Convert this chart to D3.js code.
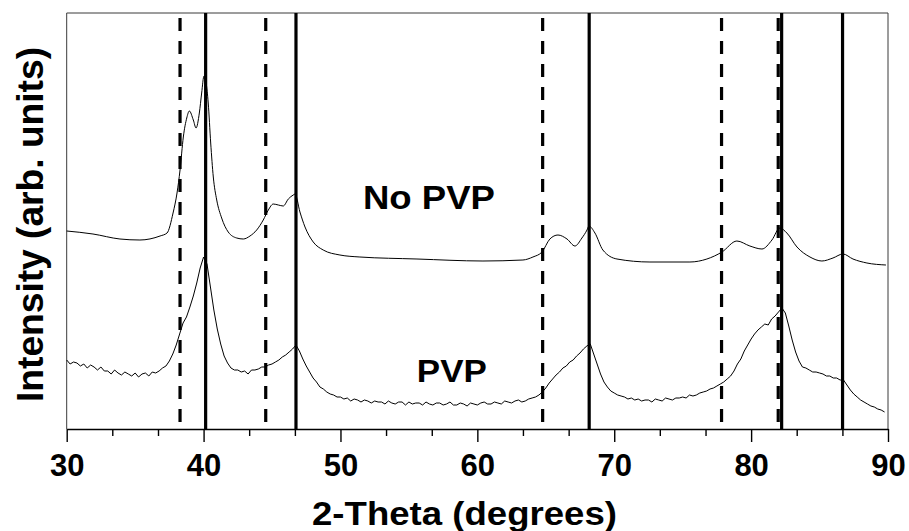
<!DOCTYPE html>
<html>
<head>
<meta charset="utf-8">
<script src="https://cdn.jsdelivr.net/npm/d3@7/dist/d3.min.js"></script>
<style>
  html, body { margin: 0; padding: 0; background: #fff; }
  svg { display: block; }
  text { font-family: "Liberation Sans", Arial, Helvetica, sans-serif; font-weight: bold; fill: #000; }
</style>
</head>
<body>
<svg id="chart" width="909" height="531"></svg>
<script>
// XRD patterns: 2-theta (degrees) vs. intensity (arb. units)

// Sample without PVP (smooth trace)
const noPvpAngle = [30.0, 31.92, 33.89, 35.35, 36.82, 37.33, 37.77, 38.06, 38.28, 38.52, 38.77, 38.96,
  39.25, 39.45, 39.69, 39.86, 40.03, 40.34, 40.52, 40.71, 40.96, 41.32, 41.80, 42.42, 42.90, 43.39,
  43.88, 44.36, 44.73, 45.09, 45.46, 45.82, 46.19, 46.55, 46.68, 47.04, 47.41, 48.01, 48.74, 49.96,
  51.42, 55.59, 60.41, 63.33, 64.06, 64.72, 65.30, 65.89, 66.55, 67.13, 67.64, 68.01, 68.15, 68.59,
  69.17, 70.20, 72.61, 75.53, 76.77, 77.87, 78.96, 79.91, 80.79, 81.52, 82.10, 82.61, 83.35, 84.30,
  85.17, 85.98, 86.71, 87.44, 88.46, 89.85];
const noPvpIntensity = [198, 195, 190, 189, 193, 196, 216, 236, 259, 292, 311, 318,
  309, 301, 316, 336, 353, 326, 286, 252, 229, 211, 197, 191, 190, 193,
  199, 209, 219, 225, 224, 223, 230, 234, 235, 217, 202, 187, 179, 174,
  172, 170, 168, 169, 172, 177, 190, 194, 190, 183, 191, 199, 203, 196,
  179, 170, 167, 167, 170, 177, 188, 183, 180, 189, 201, 196, 182, 172,
  168, 171, 175, 170, 166, 164];

// Sample with PVP (noisy trace), sampled every 0.25 degrees from 30
const pvpStart = 30;
const pvpStep = 0.25;
const pvpIntensity = [
  69, 65, 67, 66, 63, 65, 61, 64, 62, 59,
  62, 58, 58, 55, 59, 56, 54, 57, 55, 53,
  56, 52, 55, 56, 53, 57, 56, 58, 61, 63,
  68, 75, 84, 95, 106, 112, 122, 133, 146, 161,
  172, 165, 142, 119, 100, 85, 73, 66, 61, 59,
  59, 57, 58, 55, 59, 59, 60, 62, 62, 64,
  65, 67, 69, 72, 74, 77, 80, 84, 78, 70,
  63, 57, 51, 47, 42, 40, 37, 35, 34, 32,
  32, 30, 31, 28, 30, 29, 27, 29, 28, 26,
  28, 27, 27, 25, 28, 26, 25, 27, 27, 24,
  27, 25, 26, 26, 24, 27, 25, 24, 26, 26,
  24, 25, 27, 24, 24, 26, 25, 23, 26, 25,
  24, 26, 27, 25, 25, 27, 26, 25, 28, 27,
  26, 28, 29, 27, 28, 30, 31, 32, 34, 37,
  41, 46, 50, 54, 57, 61, 63, 67, 69, 73,
  76, 80, 83, 85, 75, 65, 55, 47, 42, 38,
  36, 34, 33, 32, 30, 31, 29, 30, 28, 29,
  29, 27, 30, 29, 28, 31, 30, 29, 31, 31,
  32, 31, 34, 33, 34, 36, 37, 38, 40, 41,
  43, 45, 47, 50, 53, 58, 65, 70, 78, 84,
  90, 95, 99, 102, 105, 104, 110, 113, 117, 121,
  116, 103, 89, 77, 68, 62, 61, 59, 57, 57,
  56, 55, 53, 53, 51, 51, 49, 49, 44, 39,
  35, 32, 29, 27, 25, 23, 22, 20, 19, 17];

// Reference peak positions
const dashedPeaks = [38.28, 44.54, 64.77, 77.84, 81.98];
const solidPeaks = [40.15, 46.75, 68.17, 82.23, 86.68];

// Axis ticks
const majorTicks = [30, 40, 50, 60, 70, 80, 90];
const minorTicks = [33.33, 36.67, 43.33, 46.67, 53.33, 56.67, 63.33, 66.67, 73.33, 76.67, 83.33, 86.67];

// Trace labels
const labelText = ["No PVP", "PVP"];
const labelAngle = [51.64, 55.58];
const labelIntensity = [220, 47];

const svg = d3.select("#chart");
const plotLeft = 66.7, plotRight = 888, plotTop = 13, plotBottom = 429;

const x = d3.scaleLinear().domain([30, 90]).range([plotLeft, plotRight]);
const y = d3.scaleLinear().domain([0, 416]).range([plotBottom, plotTop]);

// Frame (top, left, right)
svg.append("path")
  .attr("d", `M${plotLeft},${plotBottom}V${plotTop}H${plotRight}V${plotBottom}`)
  .attr("fill", "none")
  .attr("stroke", "#3a3a3a")
  .attr("stroke-width", 1);

// Reference lines
const refG = svg.append("g");
refG.selectAll("line.solid").data(solidPeaks).join("line")
  .attr("class", "solid")
  .attr("x1", d => x(d)).attr("x2", d => x(d))
  .attr("y1", plotTop).attr("y2", plotBottom)
  .attr("stroke", "#000").attr("stroke-width", 3.2);
refG.selectAll("line.dash").data(dashedPeaks).join("line")
  .attr("class", "dash")
  .attr("x1", d => x(d)).attr("x2", d => x(d))
  .attr("y1", plotTop).attr("y2", plotBottom)
  .attr("stroke", "#000").attr("stroke-width", 3.2)
  .attr("stroke-dasharray", "13,10")
  .attr("stroke-dashoffset", 18);

// Traces
const noPvpData = noPvpAngle.map((a, i) => [a, noPvpIntensity[i]]);
const pvpData = pvpIntensity.map((v, i) => [pvpStart + i * pvpStep, v]);

svg.append("path")
  .datum(noPvpData)
  .attr("fill", "none").attr("stroke", "#000").attr("stroke-width", 1)
  .attr("d", d3.line().x(d => x(d[0])).y(d => y(d[1])).curve(d3.curveMonotoneX));

svg.append("path")
  .datum(pvpData)
  .attr("fill", "none").attr("stroke", "#000").attr("stroke-width", 1)
  .attr("stroke-linejoin", "miter")
  .attr("d", d3.line().x(d => x(d[0])).y(d => y(d[1])));

// Bottom axis: major ticks with labels, minor ticks without
const axisG = svg.append("g").attr("transform", `translate(0,${plotBottom})`);
axisG.call(d3.axisBottom(x).tickValues(majorTicks).tickSize(13).tickSizeOuter(0).tickPadding(12).tickFormat(d3.format("d")));
axisG.select(".domain").attr("stroke", "#000").attr("stroke-width", 1.6);
axisG.selectAll(".tick line").attr("stroke", "#000").attr("stroke-width", 1.4);
axisG.selectAll(".tick text")
  .attr("font-family", "Liberation Sans, Arial, sans-serif")
  .attr("font-weight", "bold")
  .attr("font-size", 31)
  .attr("fill", "#000")
  .attr("dy", "0.71em");

const minorG = svg.append("g").attr("transform", `translate(0,${plotBottom})`);
minorG.call(d3.axisBottom(x).tickValues(minorTicks).tickSize(7).tickSizeOuter(0).tickFormat(""));
minorG.select(".domain").remove();
minorG.selectAll(".tick line").attr("stroke", "#000").attr("stroke-width", 1.4);

// Axis titles
svg.append("text")
  .attr("x", 312).attr("y", 525)
  .attr("font-size", 33)
  .attr("textLength", 305).attr("lengthAdjust", "spacingAndGlyphs")
  .text("2-Theta (degrees)");

svg.append("text")
  .attr("transform", "translate(43,402) rotate(-90)")
  .attr("font-size", 37)
  .attr("textLength", 355).attr("lengthAdjust", "spacingAndGlyphs")
  .text("Intensity (arb. units)");

// Trace labels
const labelLen = [132, 70];
const labelSize = [33, 32];
labelText.forEach((t, i) => {
  svg.append("text")
    .attr("x", x(labelAngle[i]))
    .attr("y", y(labelIntensity[i]))
    .attr("font-size", labelSize[i])
    .attr("textLength", labelLen[i]).attr("lengthAdjust", "spacingAndGlyphs")
    .text(t);
});
</script>
</body>
</html>
